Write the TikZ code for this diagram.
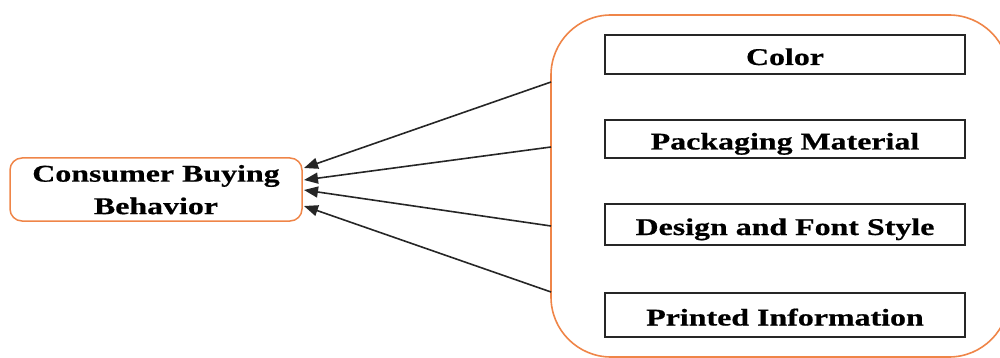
\documentclass[tikz,border=0pt]{standalone}
\usepackage{fontspec}
\setmainfont[FakeStretch=1.33,BoldFeatures={FakeBold=0.6}]{Liberation Serif}
\usetikzlibrary{arrows.meta}
\definecolor{orng}{HTML}{EF8548}
\begin{document}
\begin{tikzpicture}[x=1pt,y=-1pt,
  lbl/.style={font=\fontsize{24}{32.5}\selectfont\bfseries},
  roundbox/.style={draw=orng, line width=1.5pt, rounded corners=12pt, align=center, lbl, inner sep=0pt},
  group/.style={draw=orng, line width=1.6pt, rounded corners=60pt, inner sep=0pt},
  itembox/.style={draw=black!85, line width=1.8pt, minimum width=360pt, inner sep=0pt, lbl, text height=21pt, text depth=0pt},
  conn/.style={draw=black!85, line width=1.6pt, -{Triangle[length=14pt,width=11pt]}}]
\useasboundingbox (0,0) rectangle (1000,358);
\clip (0,0) rectangle (1000,358);
\node[roundbox, minimum width=292pt, minimum height=63pt] (cb) at (156,189.5) {\rule{0pt}{17pt}Consumer Buying\\Behavior};
\node[group, minimum width=458pt, minimum height=342pt] (grp) at (780,186) {};
\node[itembox, minimum height=39pt] (c1) at (785,54.5) {Color};
\node[itembox, minimum height=38pt] (c2) at (785,139) {Packaging Material};
\node[itembox, minimum height=41pt] (c3) at (785,224.5) {Design and Font Style};
\node[itembox, minimum height=44pt] (c4) at (785,315) {Printed Information};
\coordinate (s1) at (551,82);
\coordinate (s2) at (551,147);
\coordinate (s3) at (551,226);
\coordinate (s4) at (551,292);
\coordinate (e1) at (304,168);
\coordinate (e2) at (304,180);
\coordinate (e3) at (304,190);
\coordinate (e4) at (304,206);
\draw[conn] (s1) -- (e1);
\draw[conn] (s2) -- (e2);
\draw[conn] (s3) -- (e3);
\draw[conn] (s4) -- (e4);
\end{tikzpicture}
\end{document}
